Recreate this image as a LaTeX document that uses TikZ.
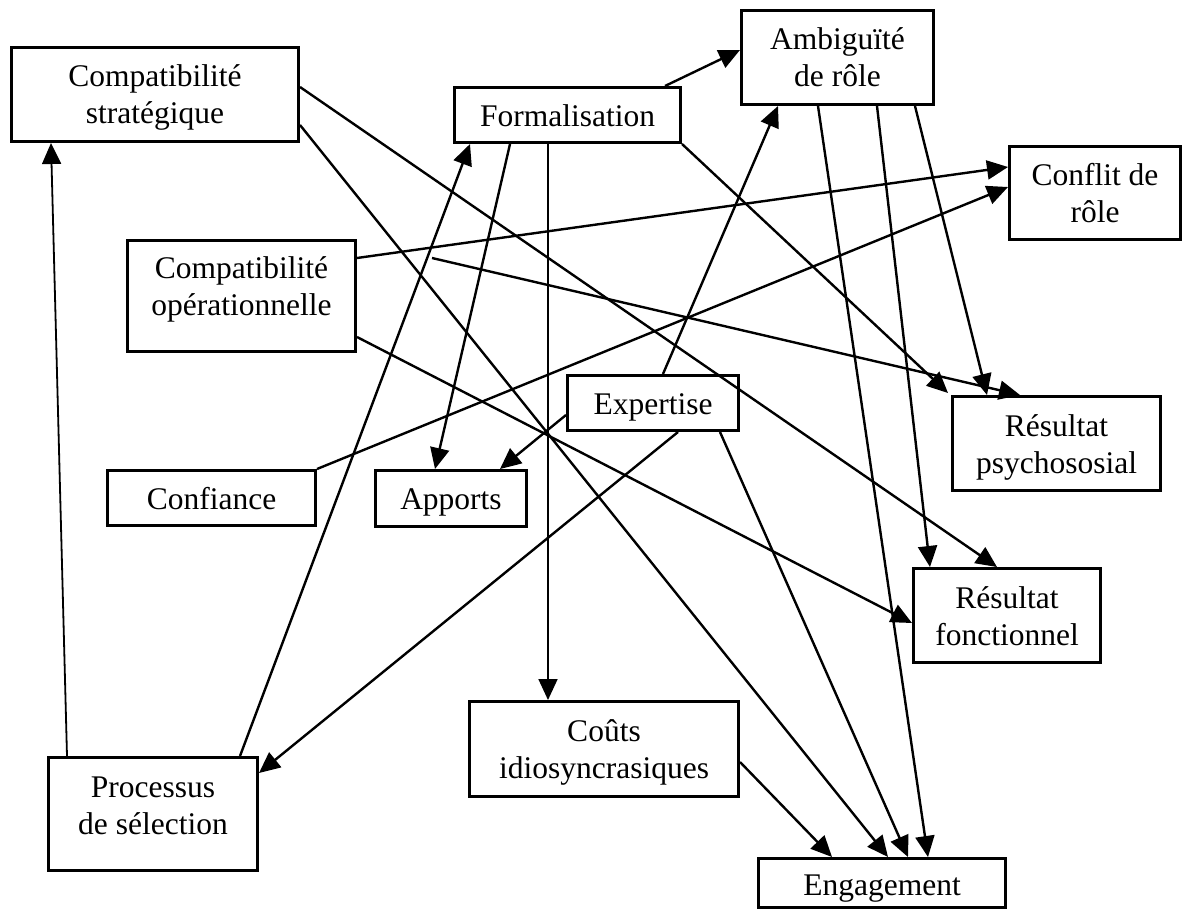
\documentclass[tikz,border=0pt]{standalone}
\usepackage{fontspec}
\setmainfont{Liberation Serif}
\usetikzlibrary{arrows.meta,calc}
\begin{document}
\begin{tikzpicture}[x=1pt,y=-1pt,
  boxfont/.style={font=\fontsize{31.5}{37}\selectfont},
  box/.style={draw,line width=3.2pt,inner sep=0pt,align=center,boxfont},
  boxtext/.style={inner sep=0pt,align=center,boxfont,anchor=base},
  arr/.style={line width=2.4pt,-{Triangle[length=21pt,width=19pt]}},
  thinarr/.style={arr,line width=1.8pt}]
\useasboundingbox[fill=white] (0,0) rectangle (1191,912);

% boxes (frames); the labels are set on their own so that every
% label sits on a fixed baseline whatever its descenders
\node[box,minimum width=286.8pt,minimum height=93.8pt] (cs)    at (155,94.5)    {};
\node[box,minimum width=225.8pt,minimum height=54.8pt] (form)  at (567.5,115)   {};
\node[box,minimum width=191.8pt,minimum height=93.8pt] (amb)   at (837.5,57.5)  {};
\node[box,minimum width=170.8pt,minimum height=92.8pt] (conf)  at (1095,193)    {};
\node[box,minimum width=227.8pt,minimum height=110.8pt] (co)   at (241.5,296)   {};
\node[box,minimum width=170.8pt,minimum height=54.8pt] (exp)   at (653,403)     {};
\node[box,minimum width=207.8pt,minimum height=93.8pt] (rp)    at (1056.5,443.5){};
\node[box,minimum width=207.8pt,minimum height=54.8pt] (confi) at (211.5,498)   {};
\node[box,minimum width=150.8pt,minimum height=55.8pt] (app)   at (451,498.5)   {};
\node[box,minimum width=186.8pt,minimum height=93.8pt] (rf)    at (1007,615.5)  {};
\node[box,minimum width=268.8pt,minimum height=94.8pt] (couts) at (604,749)     {};
\node[box,minimum width=208.8pt,minimum height=112.8pt] (proc) at (153,814)     {};
\node[box,minimum width=246.8pt,minimum height=48.8pt] (eng)   at (882,883)     {};

% labels, placed by the baseline of their last line
\node[boxtext] (cstext)    at ($(cs.center)+(0,29.5)$)    {Compatibilité\\stratégique};
\node[boxtext] (formtext)  at ($(form.center)+(0,11.5)$)  {Formalisation};
\node[boxtext] (ambtext)   at ($(amb.center)+(0,29.5)$)   {Ambiguïté\\de rôle};
\node[boxtext] (conftext)  at ($(conf.center)+(0,29.5)$)  {Conflit de\\rôle};
\node[boxtext] (cotext)    at ($(co.center)+(0,19.5)$)    {Compatibilité\\opérationnelle};
\node[boxtext] (exptext)   at ($(exp.center)+(0,11)$)     {Expertise};
\node[boxtext] (rptext)    at ($(rp.center)+(0,29.5)$)    {Résultat\\psychososial};
\node[boxtext] (confitext) at ($(confi.center)+(0,11)$)   {Confiance};
\node[boxtext] (apptext)   at ($(app.center)+(0,11)$)     {Apports};
\node[boxtext] (rftext)    at ($(rf.center)+(0,29.5)$)    {Résultat\\fonctionnel};
\node[boxtext] (coutstext) at ($(couts.center)+(0,29.5)$) {Coûts\\idiosyncrasiques};
\node[boxtext] (proctext)  at ($(proc.center)+(0,20.5)$)  {Processus\\de sélection};
\node[boxtext] (engtext)   at ($(eng.center)+(0,12)$)     {Engagement};

% loose start of the operational-fit link
\coordinate (costart) at (432,258);

% connectors
\draw[thinarr] ($(proc.north west)+(20,0)$) -- ($(cs.south west)+(41,0)$);
\draw[arr] ($(proc.north east)+(-19,0)$) -- ($(form.south west)+(17,0)$);
\draw[arr] ($(exp.south west)+(112,0)$) -- ($(proc.north east)+(0,17)$);
\draw[arr] ($(exp.north west)+(0,41)$) -- ($(app.north west)+(126,0)$);
\draw[arr] ($(form.south west)+(57,0)$) -- ($(app.north west)+(61,0)$);
\draw[thinarr] ($(form.south west)+(95,0)$) -- ($(couts.north west)+(80,0)$);
\draw[arr] ($(form.north east)+(-17,0)$) -- ($(amb.north west)+(0,41)$);
\draw[arr] (form.south east) -- ($(rp.north west)+(-3,-2)$);
\draw[arr] ($(exp.north west)+(97,0)$) -- ($(amb.south west)+(38,0)$);
\draw[arr] ($(exp.south west)+(154,0)$) -- ($(eng.north west)+(151,0)$);
\draw[arr] ($(cs.north east)+(0,41)$) -- ($(rf.north west)+(85,0)$);
\draw[arr] ($(cs.north east)+(0,79)$) -- ($(eng.north west)+(131,0)$);
\draw[arr] ($(co.north east)+(0,19)$) -- ($(conf.north west)+(0,22)$);
\draw[arr] (confi.north east) -- ($(conf.north west)+(0,42)$);
\draw[arr] (costart) -- ($(rp.north west)+(69,0)$);
\draw[arr] ($(co.north east)+(0,98)$) -- ($(rf.north west)+(0,56)$);
\draw[arr] ($(amb.south west)+(175,0)$) -- ($(rp.north west)+(36,0)$);
\draw[arr] ($(amb.south west)+(137,0)$) -- ($(rf.north west)+(18,0)$);
\draw[arr] ($(amb.south west)+(78,0)$) -- ($(eng.north west)+(171,0)$);
\draw[arr] ($(couts.north east)+(0,62)$) -- ($(eng.north west)+(75,0)$);
\end{tikzpicture}
\end{document}
